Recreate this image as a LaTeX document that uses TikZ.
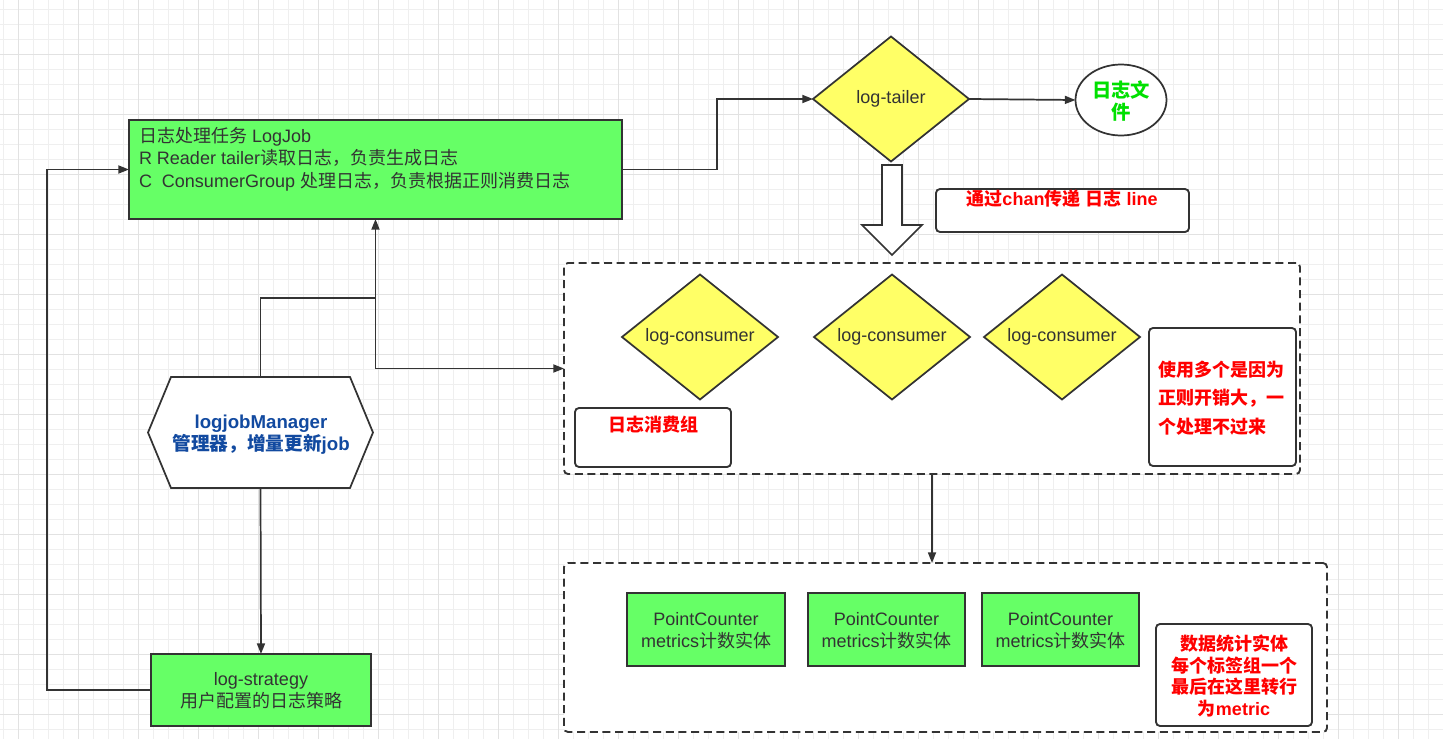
\documentclass[tikz,border=0pt]{standalone}
\usepackage{fontspec}
\setmainfont{Liberation Sans}
\newfontfamily\cjk{Noto Sans CJK SC}
\usetikzlibrary{shapes.geometric,arrows.meta,fit,calc}
\definecolor{linec}{HTML}{333333}
\definecolor{txtc}{HTML}{333333}
\definecolor{boxgreen}{HTML}{66FF66}
\definecolor{boxyellow}{HTML}{FFFF66}
\definecolor{mgrblue}{RGB}{18,74,160}
\definecolor{filegreen}{HTML}{00E000}
\definecolor{gridminor}{HTML}{EFEFEF}
\definecolor{gridmajor}{HTML}{E2E2E2}
\newcommand\zh[1]{{\cjk #1}}
\begin{document}
\begin{tikzpicture}[x=0.75pt,y=-0.75pt,
  every node/.style={font=\fontsize{13.5}{16.5}\selectfont, text=txtc, inner sep=0pt, outer sep=0pt},
  ln/.style={draw=linec, line width=1.3pt},
  arr/.style={ln, -{Triangle[length=8pt,width=6pt]}},
  gbox/.style={draw=linec, line width=1.4pt, fill=boxgreen, rectangle},
  ydia/.style={diamond, draw=linec, line width=1.3pt, fill=boxyellow, minimum width={156*0.75pt}, minimum height={125*0.75pt}, shape aspect=1.3},
  notebox/.style={draw=linec, line width=1.4pt, fill=white, rounded corners=3pt, rectangle},
  grp/.style={draw=linec, line width=1.4pt, fill=white, dash pattern=on 6pt off 3.5pt, rounded corners=3pt, rectangle},
  redtxt/.style={text=red, font=\fontsize{13.5}{16.2}\selectfont\bfseries},
  ctxt/.style={align=center, font=\fontsize{13.5}{16.5}\selectfont},
]
\useasboundingbox (0,0) rectangle (1443,739);
\fill[white] (0,0) rectangle (1443,739);
% grid
\foreach \i in {0,...,96} \draw[gridminor, line width=0.75pt] ({3.3+15*\i},0) -- ++(0,739);
\foreach \i in {0,...,49} \draw[gridminor, line width=0.75pt] (0,{9.3+15*\i}) -- ++(1443,0);
\foreach \i in {0,...,24} \draw[gridmajor, line width=0.75pt] ({18.3+60*\i},0) -- ++(0,739);
\foreach \i in {0,...,13} \draw[gridmajor, line width=0.75pt] (0,{54.3+60*\i}) -- ++(1443,0);

% LogJob
\node[gbox, fit={(129,120)(622,219)}] (logjob) {};
\node[anchor=north west, align=left, font=\fontsize{13.5}{17}\selectfont] (logjobtxt) at (139,127)
  {\zh{日志处理任务} LogJob\\R Reader tailer\zh{读取日志，负责生成日志}\\C\ \ ConsumerGroup \zh{处理日志，负责根据正则消费日志}};

% log-tailer and file
\node[ydia] (tailer) at (891,99) {log-tailer};
\node[ellipse, draw=linec, line width=1.3pt, fill=white, minimum width={91*0.75pt}, minimum height={71*0.75pt}] (file) at (1121,100) {};
\node[align=center, text=filegreen, font=\fontsize{14.5}{17}\selectfont\cjk\bfseries] (filetxt) at (1121,101) {日志文\\件};

\draw[arr] (logjob.east) -- ++(95,0) |- (tailer.west);
\draw[arr] (tailer.east) -- (file.west);

% hollow arrow
\draw[ln, fill=white, line join=miter] (882,165) -- (902,165) -- (902,225) -- (922,225) -- (892,255) -- (862,225) -- (882,225) -- cycle;

% chan note
\node[notebox, fit={(936,189)(1189,232)}] (chan) {};
\node[redtxt] (chantxt) at (1062,199) {\zh{通过}chan\zh{传递} \zh{日志} line};

% consumer group
\node[grp, fit={(564,263)(1300,474)}] (g1) {};
\node[ydia] (c1) at (700,337) {log-consumer};
\node[ydia] (c2) at (892,337) {log-consumer};
\node[ydia] (c3) at (1062,337) {log-consumer};
\node[notebox, fit={(575,408)(731,467)}] (grpname) {};
\node[redtxt] (grpnametxt) at (653,425) {\zh{日志消费组}};
\node[notebox, fit={(1149,328)(1296,466)}] (why) {};
\node[redtxt, align=left, font=\fontsize{13.5}{21.5}\selectfont\bfseries] (whytxt) at (1221,398)
  {\zh{使用多个是因为}\\\zh{正则开销大，一}\\\zh{个处理不过来}};

% counters group
\node[grp, fit={(564,563)(1327,732)}] (g2) {};
\node[gbox, fit={(627,593)(785,666)}] (pc1) {};
\node[gbox, fit={(808,593)(965,666)}] (pc2) {};
\node[gbox, fit={(982,593)(1139,666)}] (pc3) {};
\node[ctxt] (pc1txt) at ($(pc1.center)+(0,1)$) {PointCounter\\metrics\zh{计数实体}};
\node[ctxt] (pc2txt) at ($(pc2.center)+(0,1)$) {PointCounter\\metrics\zh{计数实体}};
\node[ctxt] (pc3txt) at ($(pc3.center)+(0,1)$) {PointCounter\\metrics\zh{计数实体}};
\node[notebox, fit={(1156,624)(1312,726)}] (stat) {};
\node[redtxt, align=center] (stattxt) at (1234,676)
  {\zh{数据统计实体}\\\zh{每个标签组一个}\\\zh{最后在这里转行}\\\zh{为}metric};

\draw[arr] (g1.south) -- (g1.south |- g2.north);

% manager
\node[fit={(148,377)(373,488)}] (mgr) {};
\draw[ln, fill=white, line join=miter] (mgr.west) -- ($(mgr.north west)+(23,0)$) -- ($(mgr.north east)+(-23,0)$) -- (mgr.east) -- ($(mgr.south east)+(-23,0)$) -- ($(mgr.south west)+(23,0)$) -- cycle;
\node[align=center, text=mgrblue, font=\fontsize{14}{16.5}\selectfont\bfseries] (mgrtxt) at (261,435)
  {logjobManager\\\zh{管理器，增量更新}job};

% strategy
\node[gbox, fit={(151,654)(371,726)}] (strat) {};
\node[ctxt] (strattxt) at ($(strat.center)+(0,1)$) {log-strategy\\\zh{用户配置的日志策略}};

\coordinate (j) at (375.5,298);
\draw[arr] (mgr.north) |- (j) -- (logjob.south);
\draw[arr] (j) |- (g1.west);
\draw[arr] (mgr.south) -- (strat.north);
\draw[arr] (strat.west) -- ++(-104,0) |- (logjob.west);
\end{tikzpicture}
\end{document}
